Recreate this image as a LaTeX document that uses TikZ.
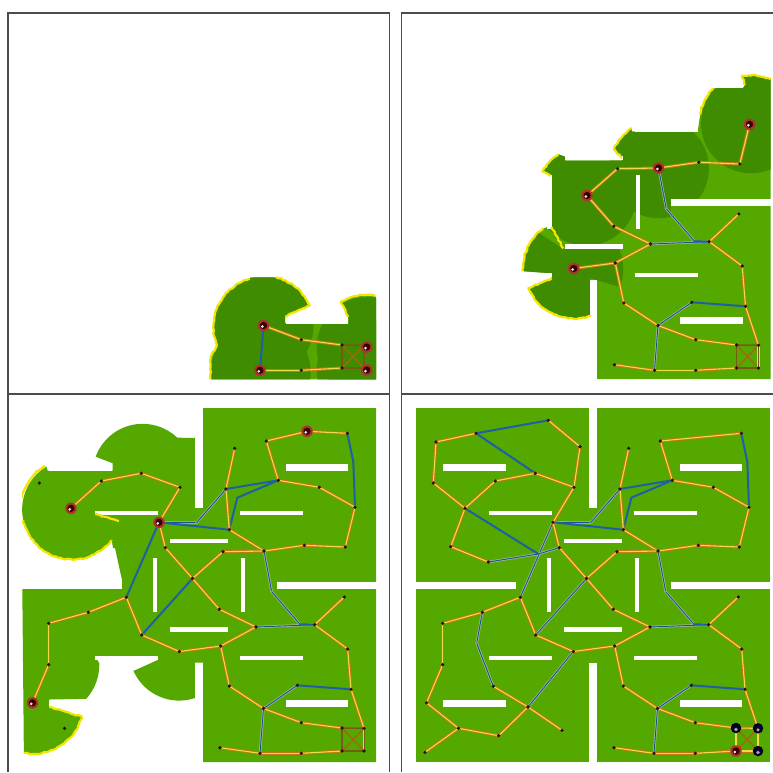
\documentclass[tikz,border=0pt]{standalone}
\usetikzlibrary{decorations.pathmorphing}
\definecolor{lightg}{HTML}{55A800}
\definecolor{darkg}{HTML}{3F8C00}
\definecolor{frontier}{HTML}{F2E600}
\definecolor{roadc}{HTML}{BE7A10}
\definecolor{roadm}{HTML}{F3D84A}
\definecolor{bluee}{HTML}{1D60A6}
\definecolor{greye}{HTML}{A3B8A0}
\definecolor{crossc}{HTML}{7A5A12}
\definecolor{robr}{HTML}{B03030}
\tikzset{
  roadb/.style={draw=roadc,line width=3pt,line cap=round},
  roady/.style={draw=roadm,line width=1.1pt,line cap=round},
  blueline/.style={draw=bluee,line width=2pt,line cap=round},
  greyb/.style={draw=greye,line width=2.4pt,line cap=round},
  greyf/.style={draw=bluee!85!black,line width=.9pt},
  crossl/.style={draw=crossc,line width=1.6pt},
  crossd/.style={draw=roadc!85!black,line width=1.4pt},
  dot/.style={circle,fill=black!90,inner sep=0pt,minimum size=3.6pt},
  robotn/.style={circle,fill=robr,inner sep=0pt,minimum size=11.5pt},
  robotd/.style={circle,fill=black!85!blue,inner sep=0pt,minimum size=10.5pt},
  front/.style={draw=frontier,line width=2.2pt,line join=round,decorate,decoration={random steps,segment length=2.5pt,amplitude=.6pt}},
  frameln/.style={draw=black!70,line width=1.2pt},
  wallf/.style={fill=white},
}
\newcommand\setpts{%
\coordinate (A1) at (154.3,420.3);\coordinate (A2) at (186,446.7);\coordinate (A3) at (180,487.3);
\coordinate (A4) at (141.3,473.3);\coordinate (A5) at (101.3,481);\coordinate (A6) at (71,508.3);
\coordinate (A7) at (39.3,483);\coordinate (A8) at (42,442);\coordinate (A9) at (82,433.3);
\coordinate (A10) at (56.7,546.7);\coordinate (A11) at (94.3,562);\coordinate (A12) at (165.3,547.7);
\coordinate (A13) at (159,522.3);\coordinate (A14) at (192.5,578.5);\coordinate (X) at (144.3,554);
\coordinate (E1) at (196.5,522.7);
\coordinate (B1) at (266.3,441);\coordinate (B2) at (347.3,433.3);\coordinate (B3) at (278.3,480.3);
\coordinate (B4) at (319.3,487.3);\coordinate (B5) at (355,507.3);\coordinate (B6) at (345.3,547);
\coordinate (B7) at (304.3,545.3);\coordinate (B8) at (264,551);\coordinate (B9) at (229.3,529.7);
\coordinate (B10) at (226,489);\coordinate (B11) at (234.7,448.3);\coordinate (B12) at (223,551.7);
\coordinate (Rb) at (307,431.3);\coordinate (Bb) at (353.3,461.7);\coordinate (Bc) at (237.3,497.7);
\coordinate (C1) at (126.3,597.3);\coordinate (C2) at (88.3,612.3);\coordinate (C3) at (48.7,623.3);
\coordinate (C4) at (48.7,664.7);\coordinate (C5) at (32.5,702.8);\coordinate (C6) at (64.5,728.3);
\coordinate (C7) at (31,752.3);\coordinate (C8) at (104.7,735.7);\coordinate (C9) at (134,707);
\coordinate (C10) at (168,730.3);\coordinate (C11) at (99.3,686.3);\coordinate (C12) at (82.7,643.3);
\coordinate (C13) at (141.7,635);\coordinate (C14) at (179.3,651.5);
\coordinate (D1) at (219.3,609.3);\coordinate (D2) at (256,627);\coordinate (D3) at (314.7,624.7);
\coordinate (D4) at (344.3,597);\coordinate (D5) at (347.7,649);\coordinate (D6) at (351,689.3);
\coordinate (D7) at (364,728.3);\coordinate (D8) at (364,751);\coordinate (D9) at (342,751);
\coordinate (D10) at (342,728);\coordinate (D11) at (301.3,722.7);\coordinate (D12) at (263.5,708.5);
\coordinate (D13) at (297.3,685.3);\coordinate (D14) at (229.3,686);\coordinate (D15) at (220.7,646);
\coordinate (D16) at (220,747.7);\coordinate (D17) at (260,753.3);\coordinate (D18) at (301.3,753.3);
\coordinate (D19) at (271.7,591.7);\coordinate (E2) at (300,624.3);
}
\newcommand\roads[1]{\foreach \a/\b in {#1}{\draw[roadb] (\a)--(\b);\draw[roady] (\a)--(\b);}}
\newcommand\blues[1]{\foreach \a/\b in {#1}{\draw[blueline] (\a)--(\b);}}
\newcommand\greys[1]{\foreach \a/\b in {#1}{\draw[greyb] (\a)--(\b);\draw[greyf] (\a)--(\b);}}
\newcommand\dotlist[1]{\foreach \n in {#1}{\node[dot] (dot\n) at (\n) {};}}
\newcommand\robot[1]{\node[robotn] (rob#1) at (#1) {};\fill[black!80!red] (#1) circle[radius=3.6];\fill[white!80!gray] (#1)++(-1.2,1) circle[radius=1.5];}
\newcommand\robotD[1]{\node[robotd] (rob#1) at (#1) {};\fill[gray!70] (#1)++(0,1.5) circle[radius=1.8];}
\newcommand\crossbox{%
\draw[crossd] (D10)--(D8);\draw[crossd] (D9)--(D7);
\draw[crossl] (D10)--(D9);\draw[crossl] (D10)--(D7);\draw[crossl] (D9)--(D8);
}
\newcommand\walls{%
\foreach \xa/\ya/\xb/\yb in {195.3/405/202.7/507.7,49.3/464/112/470.7,95/510.7/157.7/514.7,170/539/228/543.3,152.7/558/157/612,241/558/245.3/612,240/510.7/303/514.7,285.7/464/348.3/470.7,20/582/121.7/589,276.7/582/378/589,170/627.3/228/632,95/656/157.7/660,240/656/303/660,195.3/662.7/202.7/765,49.3/700.3/112/707,285.7/700.3/348.3/707}
{\fill[wallf] (\xa,\ya) rectangle (\xb,\yb);}
}
% panel 1 region
\newcommand\Pone{(250,660.3) -- (276,660.3) arc[start angle=-76,end angle=-24,radius=50] -- (285,699.7) -- (285,706.3) -- (348.3,706.3) -- (348.3,699.7) -- (340.7,684.7) arc[start angle=240,end angle=281,radius=50] -- (376,680.9) -- (376,762.3) -- (210.5,762.3) -- (210.5,740) -- (217,728) arc[start angle=158.7,end angle=254,radius=50] -- cycle}
% panel 2 region
\newcommand\Ptwo{(202.2,663) -- (202.2,762) -- (376,762) -- (376,462.3) arc[start angle=-66,end angle=-101,radius=48] -- (350.5,468) -- (348.8,470.7) -- (318.8,471.3) arc[start angle=-137,end angle=-170,radius=52] -- (303.2,514.7) -- (237.2,514.7) -- (237.2,511) arc[start angle=236,end angle=203.6,radius=50] -- (227.2,541.3) -- (228,543.7) -- (170.5,543.7) -- (170.5,539.7) -- (163.8,537.3) arc[start angle=236,end angle=209,radius=50] -- (156.2,559) -- (156.2,609) -- (148.8,611.3) arc[start angle=233.6,end angle=177,radius=50] -- (157.2,656.3) -- (157.2,661.3) -- (133.8,671.3) arc[start angle=156.8,end angle=70.6,radius=50] -- (195.5,663) -- cycle}
% panel 3 region
\newcommand\Pthree{(203,408) -- (376,408) -- (376,762) -- (203,762) -- (203,662.7) -- (195,662.7) -- (195,698) arc[start angle=71.5,end angle=156,radius=50] -- (157.7,660) -- (157.7,656) -- (95,656) -- (99.3,663.3) arc[start angle=-1.6,end angle=42,radius=51] -- (49.3,699.5) -- (49.3,706.7) -- (81.7,716.7) arc[start angle=15,end angle=101,radius=50] -- (22.3,589) -- (122,589) -- (122,580) -- (115,548) -- (113,548) -- (111.7,540) arc[start angle=37.7,end angle=239,radius=50] -- (47.7,470.7) -- (112.7,470.7) -- (112.7,463.3) -- (95.7,456.7) arc[start angle=200,end angle=313.7,radius=50] -- (195,438) -- (195,507.7) -- (203,507.7) -- cycle}
\begin{document}
\begin{tikzpicture}[x=1pt,y=-1pt]
\pgfmathsetseed{7}
\useasboundingbox (0,0) rectangle (773,772);
\fill[white] (0,0) rectangle (773,772);
% ---------- panel 1
\begin{scope}[shift={(0,-383)}]
\setpts
\fill[lightg] \Pone;
\begin{scope}
\clip \Pone;
\fill[darkg] (263.5,709.5) circle[radius=50];
\fill[darkg] (260.7,755) circle[radius=50];
\fill[darkg] (366.7,730) circle[radius=50];
\fill[darkg] (366.7,753) circle[radius=50];
\end{scope}
\walls
\draw[front] (217,728) arc[start angle=158.7,end angle=254,radius=50];
\draw[front] (276,660.3) arc[start angle=-76,end angle=-24,radius=50] -- (285,699.7);
\draw[front] (348.3,699.7) -- (340.7,684.7) arc[start angle=240,end angle=281,radius=50];
\draw[front] (210.5,762.3) -- (210.5,740) -- (217,728);
\roads{D12/D11,D11/D10,D17/D18,D18/D9}
\blues{D12/D17}
\crossbox
\draw[crossl] (D7)--(D8);
\dotlist{D11,D10,D9,D18}
\robot{D12}\robot{D17}
\coordinate (Q7) at (366.7,730);\coordinate (Q8) at (366.7,753);
\robot{Q7}\robot{Q8}
\end{scope}
% ---------- panel 2
\begin{scope}[shift={(394.5,-383)}]
\setpts
\fill[lightg] \Ptwo;
\begin{scope}
\clip \Ptwo;
\fill[darkg] (356.5,506.3) circle[radius=50];
\begin{scope}
\clip (150,480) -- (380,480) -- (380,582) -- (276,582) -- (276,610) -- (150,610) -- cycle;
\fill[darkg] (264.5,551.3) circle[radius=50];
\end{scope}
\begin{scope}
\clip (140,520) rectangle (241,632);
\fill[darkg] (191.8,578.7) circle[radius=50];
\end{scope}
\begin{scope}
\clip (120,600) -- (168.8,632) -- (235,632) -- (235,673) -- (195.5,661) -- (195.5,710) -- (120,710) -- cycle;
\fill[darkg] (178.8,652) circle[radius=50];
\end{scope}
\end{scope}
\walls
\draw[front] (376,462.3) arc[start angle=-66,end angle=-101,radius=48] -- (350.5,468);
\draw[front] (318.8,471.3) arc[start angle=-137,end angle=-170,radius=52];
\draw[front] (237.2,511) arc[start angle=236,end angle=203.6,radius=50] -- (227.2,541.3);
\draw[front] (163.8,537.3) arc[start angle=236,end angle=209,radius=50] -- (156.2,559);
\draw[front] (157,610) -- (168.8,631.3);
\draw[front] (148.8,611.3) arc[start angle=233.6,end angle=177,radius=50];
\draw[front] (157.2,661.3) -- (133.8,671.3) arc[start angle=156.8,end angle=70.6,radius=50];
\greys{B8/D19,D19/E2,D2/D3,D12/D13,D12/D17}
\blues{E2/D3,D13/D6}
\roads{B5/B6,B6/B7,B7/B8,B8/B12,B12/A14,A14/D1,D1/D2,D2/D15,D15/C14,D15/D14,D14/D12,D12/D11,D11/D10,D16/D17,D17/D18,D18/D9,D3/D4,D3/D5,D5/D6,D6/D7}
\crossbox
\draw[draw=frontier,line width=2.5pt] (D7)--(D8);\draw[crossl,line width=.7pt] (D7)--(D8);
\dotlist{B6,B7,B12,D1,D2,D3,D4,D5,D6,D7,D8,D9,D10,D11,D12,D13,D14,D15,D16,D17,D18}
\robot{B5}\robot{B8}\robot{A14}\robot{C14}
\end{scope}
% ---------- panel 3
\begin{scope}
\setpts
\begin{scope}
\clip (22,400) rectangle (380,770);
\fill[lightg] \Pthree;
\walls
\draw[front] (111.7,540) arc[start angle=37.7,end angle=168,radius=50];
\draw[front] (45,465.7) arc[start angle=239,end angle=192,radius=50];
\draw[front] (95,514) -- (119,521);
\draw[front] (49.3,706.7) -- (81.7,716.7) arc[start angle=15,end angle=101,radius=50];
\end{scope}
\greys{A13/E1,E1/B10,B8/D19,D19/E2,D2/D3,D12/D13,D12/D17}
\blues{A13/B9,B10/B3,B9/Bc,Bc/B3,B2/Bb,Bb/B5,E2/D3,D13/D6,A13/C1,C13/A14}
\roads{A6/A5,A5/A4,A4/A3,A3/A13,A13/A12,A12/A14,B12/A14,B11/B10,B10/B9,B9/B8,B3/B1,B1/Rb,Rb/B2,B3/B4,B4/B5,B5/B6,B6/B7,B7/B8,B8/B12,A14/D1,D15/C14,C14/C13,C13/C1,C1/C2,C2/C3,C3/C4,C4/C5,D1/D2,D2/D15,D15/D14,D14/D12,D12/D11,D11/D10,D16/D17,D17/D18,D18/D9,D3/D4,D3/D5,D5/D6,D6/D7}
\crossbox
\draw[draw=frontier,line width=2.5pt] (D7)--(D8);\draw[crossl,line width=.7pt] (D7)--(D8);
\dotlist{A3,A4,A5,A7,A12,A14,C1,C2,C3,C4,C6,C13,C14,B1,B2,B3,B4,B5,B6,B7,B8,B9,B10,B11,B12,D1,D2,D3,D4,D5,D6,D7,D8,D9,D10,D11,D12,D13,D14,D15,D16,D17,D18}
\robot{A6}\robot{A13}\robot{C5}\robot{Rb}
\end{scope}
% ---------- panel 4
\begin{scope}[shift={(394,0)}]
\setpts
\fill[lightg] (22,408) rectangle (376,762);
\walls
\greys{A13/C1,A11/X,X/A12,A13/E1,E1/B10,C2/C12,C12/C11,C9/C14,C13/A14,B8/D19,D19/E2,D2/D3,D12/D13,D12/D17}
\blues{A9/A1,A9/A4,A6/X,A13/B9,B10/B3,B9/Bc,Bc/B3,B2/Bb,Bb/B5,E2/D3,D13/D6}
\roads{A1/A2,A2/A3,A3/A4,A4/A5,A5/A6,A6/A7,A7/A8,A8/A9,A6/A10,A10/A11,A3/A13,A13/A12,A12/A14,B12/A14,B11/B10,B10/B9,B9/B8,B3/B1,B1/B2,B3/B4,B4/B5,B5/B6,B6/B7,B7/B8,B8/B12,A14/D1,D15/C14,C14/C13,C13/C1,C1/C2,C2/C3,C3/C4,C4/C5,C5/C6,C6/C7,C6/C8,C8/C9,C9/C11,C9/C10,D1/D2,D2/D15,D15/D14,D14/D12,D12/D11,D11/D10,D16/D17,D17/D18,D18/D9,D3/D4,D3/D5,D5/D6,D6/D7,D10/D7,D9/D8}
\draw[crossd] (D10)--(D8);\draw[crossd] (D9)--(D7);
\roads{D10/D9,D7/D8}
\dotlist{A1,A2,A3,A4,A5,A6,A7,A8,A9,A10,A11,A12,A13,A14,C1,C2,C3,C4,C5,C6,C7,C8,C9,C10,C11,C13,C14,B1,B2,B3,B4,B5,B6,B7,B8,B9,B10,B11,B12,D1,D2,D3,D4,D5,D6,D11,D12,D13,D14,D15,D16,D17,D18}
\robotD{D10}\robotD{D7}\robotD{D8}\robot{D9}
\end{scope}
% ---------- frames
\draw[frameln] (8,772) -- (8,13) -- (389.5,13) -- (389.5,772);
\draw[frameln] (773,13) -- (401.5,13) -- (401.5,772);
\draw[frameln] (8,394) -- (389.5,394);
\draw[frameln] (401.5,394) -- (773,394);
\end{tikzpicture}
\end{document}
